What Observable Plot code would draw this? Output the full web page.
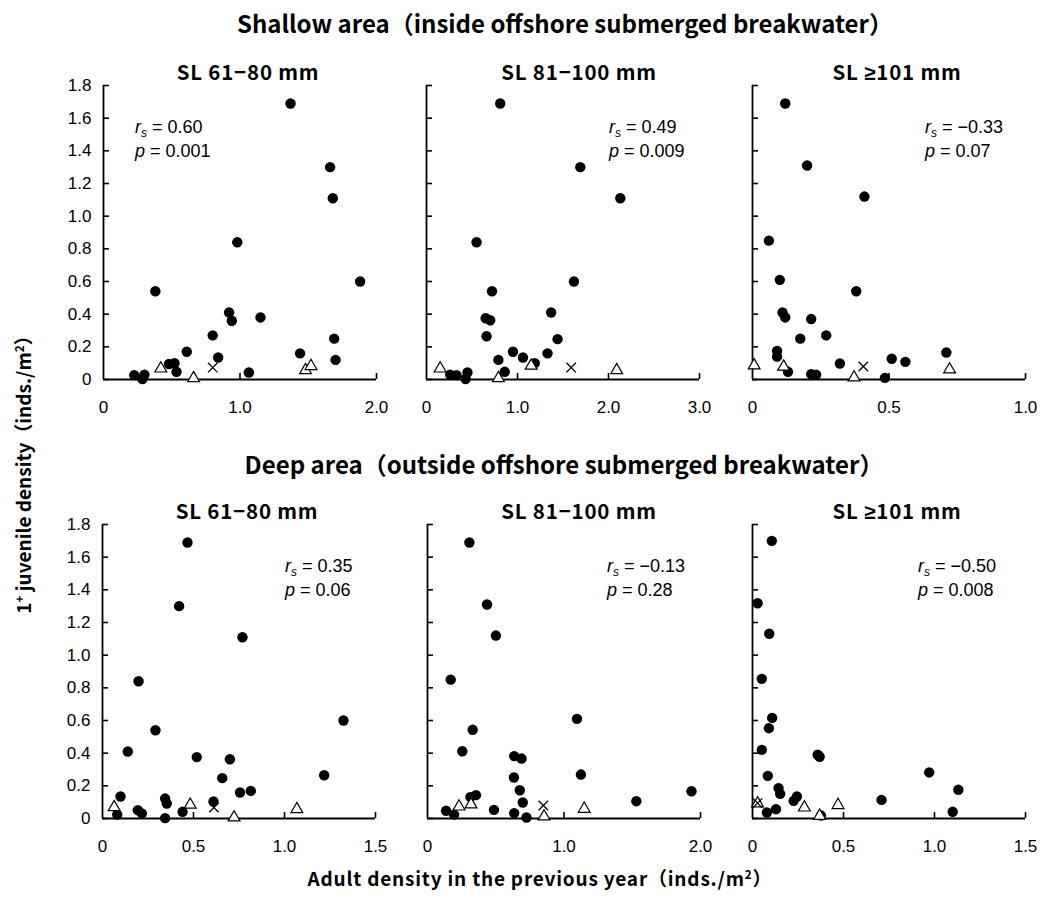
<!DOCTYPE html>
<html>
<head>
<meta charset="utf-8">
<script src="https://cdn.jsdelivr.net/npm/d3@7"></script>
<script src="https://cdn.jsdelivr.net/npm/@observablehq/plot@0.6"></script>
<style>
  body { margin: 0; background: #fff; }
  #chart { position: relative; width: 1040px; height: 900px; background: #fff; color: #000; }
  .jp { position: absolute; white-space: nowrap; font-family: "Noto Sans CJK JP", "Noto Sans", sans-serif; font-weight: bold; transform: translate(-50%, -50%); }
  .stat { position: absolute; white-space: nowrap; font-family: "Liberation Sans", Arial, sans-serif; font-size: 18px; line-height: 24px; }
  .stat sub { font-size: 12px; vertical-align: -4px; line-height: 0; }
  .panel { position: absolute; overflow: visible; }
  sup { font-size: 0.62em; line-height: 0; vertical-align: 0.55em; }
  .ge { font-family: "Liberation Sans", Arial, sans-serif; }
</style>
</head>
<body>
<div id="chart"></div>
<script>
// ---------- data: [adult density previous year, 1+ juvenile density] ----------
const shallowSL61Dots = [[1.37,1.69],[1.66,1.30],[1.68,1.11],[0.98,0.84],[1.88,0.60],[0.38,0.54],[0.92,0.41],[0.94,0.36],[1.15,0.38],[0.80,0.27],[1.69,0.25],[0.61,0.17],[1.44,0.16],[0.84,0.135],[1.70,0.12],[0.48,0.095],[0.52,0.10],[0.535,0.047],[1.065,0.043],[0.225,0.027],[0.30,0.03],[0.285,0.003]];
const shallowSL61Tri = [[0.42,0.067],[0.66,0.008],[1.48,0.057],[1.52,0.082]];
const shallowSL61Cross = [[0.80,0.073]];

const shallowSL81Dots = [[0.81,1.69],[1.69,1.30],[2.13,1.11],[0.55,0.84],[1.62,0.60],[0.72,0.54],[1.37,0.41],[0.65,0.375],[0.70,0.363],[1.44,0.247],[0.66,0.265],[0.95,0.17],[1.06,0.135],[1.33,0.16],[0.79,0.12],[1.19,0.10],[0.86,0.047],[0.45,0.043],[0.26,0.03],[0.33,0.027],[0.43,0.003]];
const shallowSL81Tri = [[0.15,0.067],[0.79,0.008],[1.15,0.084],[2.09,0.057]];
const shallowSL81Cross = [[1.59,0.073]];

const shallowSL101Dots = [[0.12,1.69],[0.20,1.31],[0.41,1.12],[0.06,0.85],[0.10,0.61],[0.38,0.54],[0.11,0.41],[0.12,0.38],[0.215,0.37],[0.27,0.27],[0.175,0.25],[0.71,0.165],[0.09,0.175],[0.09,0.14],[0.51,0.127],[0.56,0.108],[0.32,0.098],[0.13,0.047],[0.215,0.033],[0.233,0.029],[0.485,0.01]];
const shallowSL101Tri = [[0.006,0.086],[0.114,0.078],[0.372,0.012],[0.722,0.061]];
const shallowSL101Cross = [[0.406,0.08]];

const deepSL61Dots = [[0.467,1.69],[0.421,1.30],[0.769,1.11],[0.198,0.84],[1.324,0.60],[0.291,0.54],[0.139,0.41],[0.518,0.376],[0.70,0.363],[1.218,0.265],[0.658,0.247],[0.815,0.169],[0.756,0.159],[0.099,0.135],[0.344,0.122],[0.353,0.092],[0.61,0.104],[0.194,0.051],[0.216,0.031],[0.44,0.041],[0.081,0.024],[0.344,0.002]];
const deepSL61Tri = [[0.064,0.069],[0.482,0.084],[0.723,0.006],[1.068,0.057]];
const deepSL61Cross = [[0.612,0.067]];

const deepSL81Dots = [[0.307,1.69],[0.436,1.31],[0.501,1.12],[0.17,0.85],[1.095,0.61],[0.331,0.543],[0.255,0.412],[0.635,0.382],[0.689,0.367],[1.124,0.269],[0.633,0.251],[0.676,0.173],[1.934,0.167],[0.355,0.143],[0.314,0.131],[0.698,0.098],[1.53,0.106],[0.136,0.047],[0.487,0.053],[0.195,0.024],[0.635,0.033],[0.725,0.006]];
const deepSL81Tri = [[0.231,0.073],[0.319,0.086],[0.854,0.012],[1.148,0.059]];
const deepSL81Cross = [[0.849,0.08]];

const deepSL101Dots = [[0.106,1.70],[0.028,1.318],[0.092,1.131],[0.051,0.855],[0.108,0.616],[0.09,0.553],[0.051,0.42],[0.358,0.39],[0.369,0.378],[0.084,0.261],[0.971,0.282],[0.143,0.186],[0.152,0.151],[1.131,0.176],[0.244,0.135],[0.226,0.108],[0.709,0.114],[0.129,0.057],[0.079,0.037],[1.10,0.041],[0.376,0.018]];
const deepSL101Tri = [[0.028,0.092],[0.285,0.067],[0.369,0.016],[0.47,0.082]];
const deepSL101Cross = [[0.028,0.094]];

// ---------- labels & axis ticks ----------
const areaTitles = ["Shallow area（inside offshore submerged breakwater）", "Deep area（outside offshore submerged breakwater）"];
const sizeClasses = ["SL 61−80 mm", "SL 81−100 mm", "SL <span class='ge'>≥</span>101 mm"];
const rsValues = ["0.60", "0.49", "−0.33", "0.35", "−0.13", "−0.50"];
const pValues = ["0.001", "0.009", "0.07", "0.06", "0.28", "0.008"];
const yTicks = [0, 0.2, 0.4, 0.6, 0.8, 1.0, 1.2, 1.4, 1.6, 1.8];
const xTicksList = [[0, 1, 2], [0, 1, 2, 3], [0, 0.5, 1], [0, 0.5, 1, 1.5], [0, 1, 2], [0, 0.5, 1, 1.5]];
const yLabel = "1<sup>+</sup> juvenile density（inds./m<sup>2</sup>）";
const xLabel = "Adult density in the previous year（inds./m<sup>2</sup>）";

// ---------- layout ----------
const dotsList = [shallowSL61Dots, shallowSL81Dots, shallowSL101Dots, deepSL61Dots, deepSL81Dots, deepSL101Dots];
const triList = [shallowSL61Tri, shallowSL81Tri, shallowSL101Tri, deepSL61Tri, deepSL81Tri, deepSL101Tri];
const crossList = [shallowSL61Cross, shallowSL81Cross, shallowSL101Cross, deepSL61Cross, deepSL81Cross, deepSL101Cross];
const frameLeft = [103, 426, 752, 102, 427, 752];
const frameTop = [85, 85, 85, 524, 524, 524];
const statLeft = [32, 183, 173, 183, 180, 166];
const titleCenter = [248, 579, 897, 247, 579, 897];
const iw = 273, ih = 294, ml = 60, mr = 20, mt = 10, mb = 50;

const chart = document.getElementById("chart");
const fmt = d => d === 0 ? "0" : d.toFixed(1);

function addDiv(cls, html, css) {
  const el = document.createElement("div");
  el.className = cls;
  el.innerHTML = html;
  Object.assign(el.style, css);
  chart.appendChild(el);
  return el;
}

for (let i = 0; i < 6; i++) {
  const xTicks = xTicksList[i];
  const xMax = xTicks[xTicks.length - 1];
  const showY = i % 3 === 0;
  const svg = Plot.plot({
    width: iw + ml + mr,
    height: ih + mt + mb,
    marginLeft: ml, marginRight: mr, marginTop: mt, marginBottom: mb,
    x: {domain: [0, xMax], axis: null},
    y: {domain: [0, 1.8], axis: null},
    style: {fontFamily: "'Liberation Sans', Arial, sans-serif", fontSize: "17px", color: "#000", background: "transparent", overflow: "visible"},
    marks: [
      Plot.axisX(xTicks, {tickSize: 0, tickPadding: 21, tickFormat: fmt, label: null, fontSize: 17}),
      showY ? Plot.axisY(yTicks, {tickSize: 0, tickPadding: 12, tickFormat: fmt, label: null, fontSize: 17}) : null,
      Plot.tickY(yTicks, {y: d => d, insetRight: iw - 6, stroke: "black", strokeWidth: 1.6}),
      Plot.tickX(xTicks.filter(d => d > 0), {x: d => d, insetTop: ih - 6, stroke: "black", strokeWidth: 1.6}),
      Plot.ruleX([0], {stroke: "black", strokeWidth: 1.8}),
      Plot.ruleY([0], {stroke: "black", strokeWidth: 1.8}),
      Plot.dot(dotsList[i], {x: d => d[0], y: d => d[1], r: 5.2, fill: "black", stroke: null}),
      Plot.dot(triList[i], {x: d => d[0], y: d => d[1], symbol: "triangle", r: 4.4, fill: "white", stroke: "black", strokeWidth: 1.2}),
      Plot.dot(crossList[i], {x: d => d[0], y: d => d[1], symbol: "times", r: 4.4, stroke: "black", strokeWidth: 1.3})
    ]
  });
  svg.classList.add("panel");
  svg.style.left = (frameLeft[i] - ml) + "px";
  svg.style.top = (frameTop[i] - mt) + "px";
  chart.appendChild(svg);

  addDiv("stat", `<i>r</i><sub><i>s</i></sub> = ${rsValues[i]}<br><i>p</i> = ${pValues[i]}`,
    {left: (frameLeft[i] + statLeft[i]) + "px", top: (frameTop[i] + 30) + "px"});
  addDiv("jp", sizeClasses[i % 3],
    {left: titleCenter[i] + "px", top: (i < 3 ? 71 : 510) + "px", fontSize: "20.5px", letterSpacing: "0.8px"});
}

addDiv("jp", areaTitles[0], {left: "565px", top: "22px", fontSize: "24px"});
addDiv("jp", areaTitles[1], {left: "564px", top: "463px", fontSize: "24px"});
addDiv("jp", xLabel, {left: "540px", top: "877px", fontSize: "19px", letterSpacing: "0.8px"});
addDiv("jp", yLabel, {left: "22px", top: "470px", fontSize: "19px", transform: "translate(-50%, -50%) rotate(-90deg)"});
</script>
</body>
</html>
